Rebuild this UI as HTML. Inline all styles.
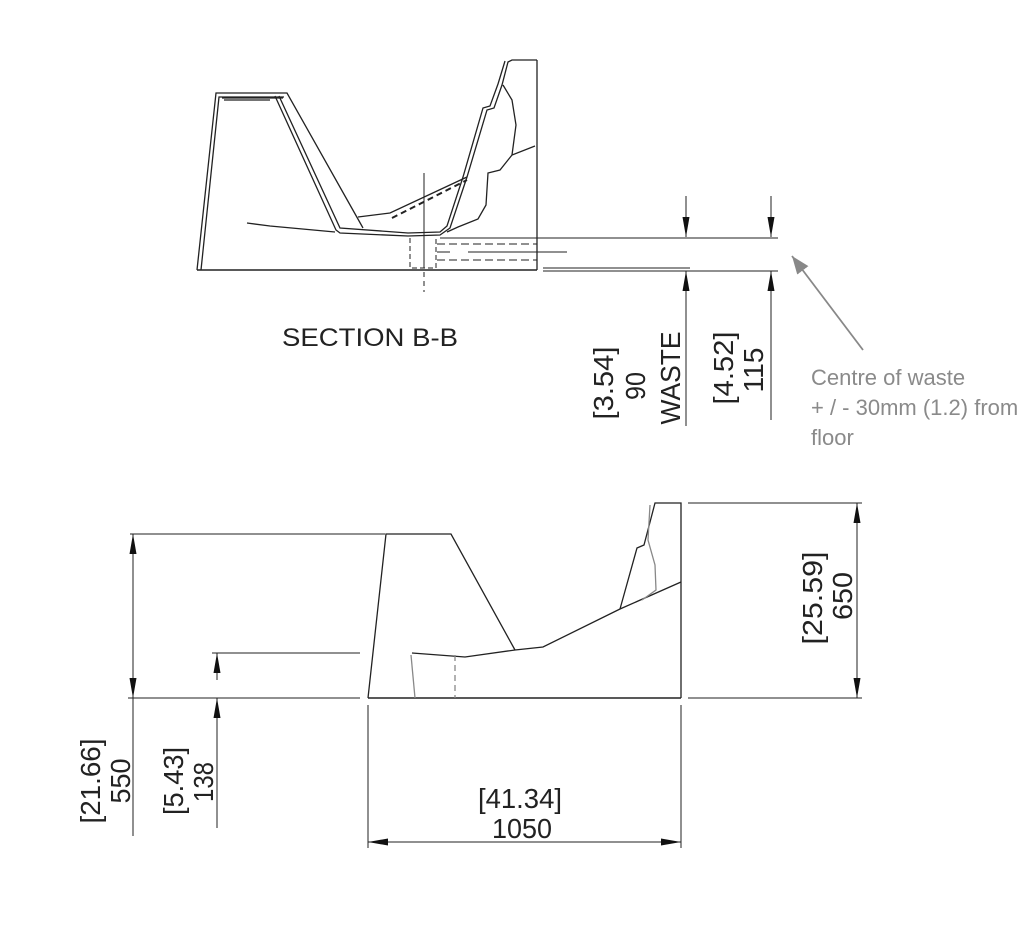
<!DOCTYPE html>
<html><head><meta charset="utf-8"><style>
html,body{margin:0;padding:0;background:#fff;}
svg{display:block;}
text{font-family:"Liberation Sans",sans-serif;}
</style></head><body>
<svg width="1032" height="939" viewBox="0 0 1032 939" xmlns="http://www.w3.org/2000/svg">
<defs>
<marker id="a" viewBox="0 0 10 10" refX="10" refY="5" markerWidth="20" markerHeight="7" orient="auto" markerUnits="userSpaceOnUse" preserveAspectRatio="none"><path d="M0,0 L10,5 L0,10 z" fill="#111"/></marker>
<marker id="g" viewBox="0 0 10 10" refX="10" refY="5" markerWidth="18" markerHeight="14" orient="auto" markerUnits="userSpaceOnUse" preserveAspectRatio="none"><path d="M0,0 L10,5 L0,10 z" fill="#888"/></marker>
</defs>
<g fill="none" stroke="#222" stroke-width="1.3">
<path d="M197,270 L216,93 L287,93 L363,228"/>
<path d="M201,270 L219,97 L284,97"/>
<path d="M222,98 L283,98 M224,100 L270,100"/>
<path d="M275,96 L336,230 L340,233 L408,236 L440,235 L450,228 L467,177 L487,110 L494,108 L502,85 L508,62 L512,60 L537,60"/>
<path d="M279,96 L340,228 L408,233 L440,232 L447,226 L463,177 L483,108 L490,106 L498,84 L505,61"/>
<path d="M537,60 L537,270"/>
<path d="M197,270 L537,270" stroke-width="1.6"/>
<path d="M247,223 L270,226 L335,232"/>
<path d="M358,217 L390,213 L467,177"/>
<path d="M392,218 L467,180" stroke-dasharray="6,4" stroke-width="2"/>
<path d="M447,232 L458,227 L478,219 L486,205 L488,173 L500,170 L512,155 L535,146"/>
<path d="M503,85 L512,100 L516,125 L512,155"/>
<path d="M424,173 L424,268" stroke-width="1"/>
<path d="M424,272 L424,292" stroke-dasharray="5,4" stroke-width="1"/>
<path d="M410,238 L410,268 L436,268 L436,238" stroke-dasharray="5,3" stroke-width="1"/>
<path d="M437,244 L537,244 M437,260 L537,260" stroke-dasharray="8,4" stroke-width="1"/>
<path d="M437,252 L450,252 M468,252 L567,252" stroke-width="1"/>
<path d="M440,238 L778,238" stroke-width="1"/>
<path d="M543,268 L690,268" stroke-width="1"/>
<path d="M543,271 L778,271" stroke-width="1"/>
<path d="M686,196 L686,237" marker-end="url(#a)" stroke-width="1"/>
<path d="M686,426 L686,271" marker-end="url(#a)" stroke-width="1"/>
<path d="M771,196 L771,237" marker-end="url(#a)" stroke-width="1"/>
<path d="M771,420 L771,271" marker-end="url(#a)" stroke-width="1"/>
<path d="M368,698 L386,534 L451,534 L515,650"/>
<path d="M412,653 L465,657 L515,650 L543,647 L620,609 L681,582"/>
<path d="M620,609 L637,548 L644,545 L655,503 L681,503 L681,698"/>
<path d="M368,698 L681,698" stroke-width="1.5"/>
<path d="M650,505 L648,540 L655,565 L656,590 L642,600" stroke="#888"/>
<path d="M411,655 L415,698" stroke="#888"/>
<path d="M455,655 L455,698" stroke="#888" stroke-dasharray="6,4"/>
<path d="M130,534 L385,534" stroke-width="1"/>
<path d="M128,698 L360,698" stroke-width="1"/>
<path d="M212,653 L360,653" stroke-width="1"/>
<path d="M133,836 L133,534" marker-end="url(#a)" stroke-width="1"/>
<path d="M133,600 L133,698" marker-end="url(#a)" stroke-width="1"/>
<path d="M217,680 L217,653" marker-end="url(#a)" stroke-width="1"/>
<path d="M217,828 L217,698" marker-end="url(#a)" stroke-width="1"/>
<path d="M368,705 L368,848 M681,705 L681,848" stroke-width="1"/>
<path d="M520,842 L368,842" marker-end="url(#a)" stroke-width="1"/>
<path d="M520,842 L681,842" marker-end="url(#a)" stroke-width="1"/>
<path d="M688,503 L862,503 M688,698 L862,698" stroke-width="1"/>
<path d="M857,600 L857,503" marker-end="url(#a)" stroke-width="1"/>
<path d="M857,600 L857,698" marker-end="url(#a)" stroke-width="1"/>
</g>
<path d="M863,350 L792,256" stroke="#888" stroke-width="1.8" marker-end="url(#g)"/>
<g fill="#222" font-size="28">
<text x="282" y="346" font-size="25" textLength="176" lengthAdjust="spacingAndGlyphs">SECTION B-B</text>
<text transform="translate(613,383) rotate(-90)" text-anchor="middle" textLength="73" lengthAdjust="spacingAndGlyphs">[3.54]</text>
<text transform="translate(645,386) rotate(-90)" text-anchor="middle" textLength="28" lengthAdjust="spacingAndGlyphs">90</text>
<text transform="translate(680,378) rotate(-90)" text-anchor="middle" textLength="93" lengthAdjust="spacingAndGlyphs">WASTE</text>
<text transform="translate(733,368) rotate(-90)" text-anchor="middle" textLength="73" lengthAdjust="spacingAndGlyphs">[4.52]</text>
<text transform="translate(763,370) rotate(-90)" text-anchor="middle" textLength="45" lengthAdjust="spacingAndGlyphs">115</text>
<text transform="translate(100,781) rotate(-90)" text-anchor="middle" textLength="85" lengthAdjust="spacingAndGlyphs">[21.66]</text>
<text transform="translate(130,781) rotate(-90)" text-anchor="middle" textLength="45" lengthAdjust="spacingAndGlyphs">550</text>
<text transform="translate(183,781) rotate(-90)" text-anchor="middle" textLength="68" lengthAdjust="spacingAndGlyphs">[5.43]</text>
<text transform="translate(213,782) rotate(-90)" text-anchor="middle" textLength="40" lengthAdjust="spacingAndGlyphs">138</text>
<text x="520" y="808" text-anchor="middle" textLength="84" lengthAdjust="spacingAndGlyphs">[41.34]</text>
<text x="522" y="838" text-anchor="middle" textLength="60" lengthAdjust="spacingAndGlyphs">1050</text>
<text transform="translate(822,598) rotate(-90)" text-anchor="middle" textLength="93" lengthAdjust="spacingAndGlyphs">[25.59]</text>
<text transform="translate(852,596) rotate(-90)" text-anchor="middle" textLength="48" lengthAdjust="spacingAndGlyphs">650</text>
</g>
<g fill="#8a8a8a" font-size="22">
<text x="811" y="385">Centre of waste</text>
<text x="811" y="415">+ / - 30mm (1.2) from</text>
<text x="811" y="445">floor</text>
</g>
</svg>
</body></html>
